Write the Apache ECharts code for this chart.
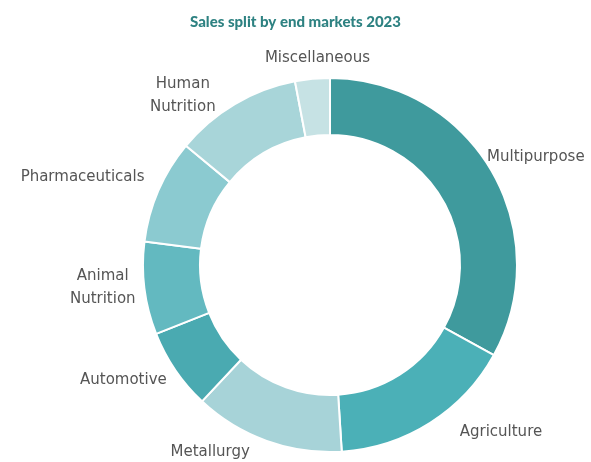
<!DOCTYPE html>
<html>
<head>
<meta charset="utf-8">
<script src="https://cdn.jsdelivr.net/npm/echarts@6/dist/echarts.min.js"></script>
<style>
  html, body { margin: 0; padding: 0; background: #ffffff; }
  #chart { width: 591px; height: 462px; }
</style>
</head>
<body>
<div id="chart"></div>
<script>
// Sales split by end market, share of 2023 sales (%)
const markets = ['Multipurpose', 'Agriculture', 'Metallurgy', 'Automotive',
                 'Animal\nNutrition', 'Pharmaceuticals', 'Human\nNutrition', 'Miscellaneous'];
const shares = [33, 16, 13, 7, 8, 9, 11, 3];
const palette = ['#3f9a9d', '#4bb0b7', '#a7d3d8', '#4aaab1',
                 '#63b9c0', '#8bcad0', '#a8d5d9', '#c6e2e4'];
// small per-label nudges [dx, dy] applied after the outside label layout
const labelNudge = [[-16, -6], [22, -3], [-12, -2], [3, 2],
                    [5, -3], [-1, -8], [-12, 4], [59, -7]];

const chart = echarts.init(document.getElementById('chart'));
chart.setOption({
  backgroundColor: '#ffffff',
  animation: false,
  title: {
    text: 'Sales split by end markets 2023',
    left: 'center',
    top: 10,
    textStyle: { fontFamily: 'Lato', fontSize: 15, fontWeight: 900, color: '#2e8282' }
  },
  series: [{
    type: 'pie',
    center: [330, 265],
    radius: [130, 187],
    startAngle: 90,
    clockwise: true,
    avoidLabelOverlap: false,
    itemStyle: { borderColor: '#ffffff', borderWidth: 2 },
    label: {
      show: true,
      position: 'outside',
      fontFamily: 'DejaVu Sans',
      fontSize: 15,
      color: '#555555',
      lineHeight: 23,
      distanceToLabelLine: 0
    },
    labelLine: { show: false, length: 14, length2: 0 },
    labelLayout: function (params) {
      const r = params.labelRect;
      const n = labelNudge[params.dataIndex] || [0, 0];
      return {
        x: r.x + r.width / 2 + n[0],
        y: r.y + r.height / 2 + n[1],
        align: 'center',
        verticalAlign: 'middle',
        hideOverlap: false
      };
    },
    data: markets.map((name, i) => ({
      name: name,
      value: shares[i],
      itemStyle: { color: palette[i] }
    }))
  }]
});
</script>
</body>
</html>
